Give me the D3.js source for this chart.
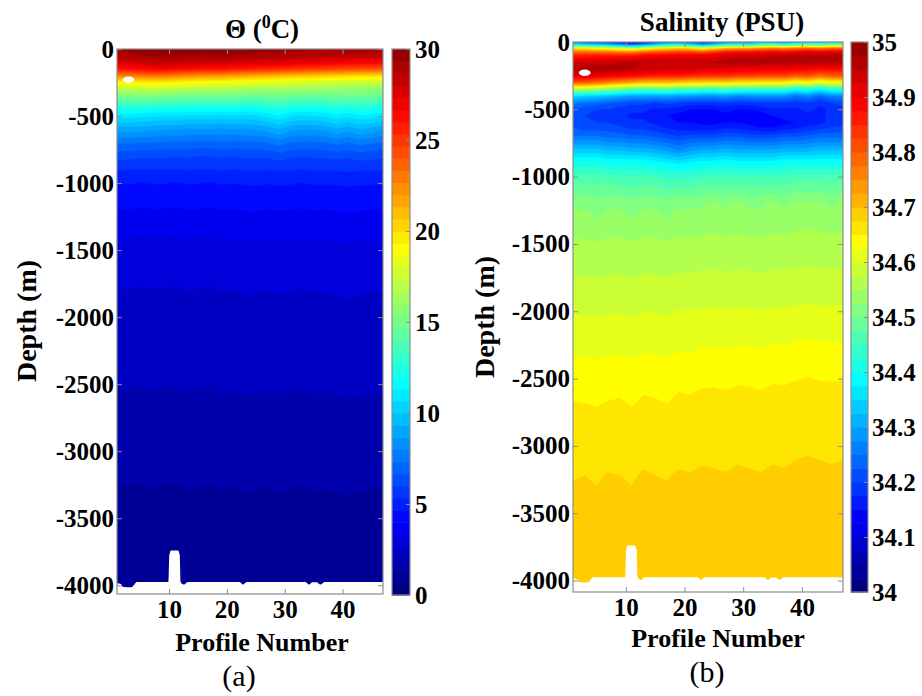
<!DOCTYPE html>
<html><head><meta charset="utf-8">
<script src="https://cdn.jsdelivr.net/npm/d3@7"></script>
<style>
body{margin:0;background:#fff;}
svg{display:block;}
text{font-family:"Liberation Serif","Times New Roman",serif;fill:#000;}
</style></head><body>
<svg id="chart" width="922" height="696"></svg>
<script>
// ---- section data: columns are profiles, rows are depth levels (m) ----
const profiles = [1,3,5,7,9,11,13,15,17,19,21,23,25,27,29,31,33,35,37,39,41,43,45,47];

const tempDepths = [0,-50,-100,-150,-200,-250,-300,-350,-400,-450,-500,-600,-700,-800,-900,-1000,-1200,-1400,-1800,-2200,-2600,-3000,-3250,-3500,-4000];
const tempRows = [
 [29.3,29.5,29.7,29.8,29.9,29.9,29.9,29.8,29.8,29.9,29.8,29.7,29.6,29.6,29.5,29.5,29.4,29.4,29.3,29.3,29.2,29.2,29.1,29.0],
 [28.9,29.1,29.3,29.4,29.5,29.5,29.4,29.3,29.3,29.4,29.3,29.2,29.1,29.1,29.0,28.9,28.8,28.8,28.7,28.6,28.5,28.5,28.4,28.3],
 [27.6,27.8,28.0,28.2,28.3,28.2,28.1,28.0,27.9,28.0,27.8,27.7,27.6,27.5,27.4,27.3,27.1,27.1,27.0,26.9,26.7,26.6,26.6,26.5],
 [25.9,26.1,26.3,26.5,26.6,26.4,26.2,26.0,25.9,26.0,25.7,25.6,25.4,25.3,25.1,25.0,24.8,24.7,24.5,24.4,24.2,24.1,24.0,23.9],
 [22.4,22.7,22.9,23.1,23.0,22.7,22.4,22.2,22.0,22.1,21.8,21.6,21.4,21.2,21.0,20.9,20.7,20.6,20.4,20.3,20.1,20.0,19.9,19.8],
 [19.0,19.2,19.4,19.5,19.4,19.2,19.0,18.8,18.7,18.7,18.5,18.3,18.2,18.1,18.0,17.9,17.8,17.7,17.6,17.5,17.4,17.4,17.3,17.2],
 [16.9,17.1,17.2,17.2,17.1,16.9,16.8,16.7,16.6,16.6,16.5,16.4,16.3,16.3,16.3,16.2,16.1,16.1,16.0,16.0,15.9,15.9,15.8,15.7],
 [15.1,15.3,15.3,15.3,15.2,15.1,15.0,14.9,14.9,14.9,14.8,14.8,14.7,14.8,15.0,14.7,14.6,14.6,14.6,14.8,14.7,14.7,14.8,14.5],
 [13.6,13.7,13.7,13.6,13.5,13.4,13.4,13.3,13.3,13.3,13.3,13.2,13.2,13.4,13.6,13.3,13.2,13.2,13.3,13.5,13.4,13.5,13.5,13.2],
 [12.1,12.2,12.1,12.0,11.9,11.9,11.8,11.8,11.8,11.7,11.8,11.7,11.7,12.0,12.3,11.9,11.7,11.8,11.9,12.2,12.0,12.3,12.2,11.8],
 [10.8,10.9,10.8,10.7,10.6,10.6,10.5,10.5,10.5,10.4,10.5,10.4,10.5,10.8,11.2,10.7,10.5,10.6,10.7,11.1,10.8,11.2,11.0,10.6],
 [8.9,9.0,8.9,8.8,8.7,8.7,8.6,8.6,8.6,8.5,8.6,8.6,8.7,8.9,9.3,8.8,8.7,8.7,8.8,9.2,8.9,9.3,9.1,8.7],
 [7.4,7.4,7.3,7.3,7.2,7.2,7.2,7.1,7.1,7.2,7.1,7.2,7.2,7.3,7.6,7.3,7.2,7.2,7.3,7.5,7.3,7.6,7.4,7.2],
 [6.2,6.2,6.1,6.1,6.1,6.0,6.1,6.0,6.0,6.1,6.0,6.1,6.1,6.1,6.3,6.1,6.0,6.1,6.1,6.2,6.1,6.3,6.2,6.1],
 [5.35,5.36,5.3,5.34,5.35,5.29,5.36,5.34,5.28,5.37,5.33,5.38,5.4,5.34,5.42,5.37,5.32,5.38,5.36,5.4,5.43,5.41,5.37,5.38],
 [4.68,4.7,4.64,4.69,4.7,4.63,4.7,4.69,4.62,4.71,4.68,4.72,4.74,4.69,4.74,4.71,4.66,4.72,4.7,4.73,4.76,4.73,4.7,4.72],
 [3.98,3.99,3.93,3.98,3.97,3.93,4.0,3.98,3.92,4.01,3.97,4.02,4.04,3.98,4.03,4.0,3.96,4.02,4.0,4.04,4.06,4.03,4.01,4.02],
 [3.36,3.35,3.31,3.35,3.34,3.31,3.37,3.35,3.3,3.38,3.35,3.38,3.4,3.36,3.39,3.37,3.34,3.38,3.37,3.4,3.42,3.39,3.37,3.38],
 [2.66,2.65,2.62,2.66,2.64,2.61,2.67,2.65,2.6,2.68,2.65,2.69,2.71,2.66,2.7,2.68,2.64,2.69,2.68,2.71,2.73,2.7,2.68,2.69],
 [2.26,2.25,2.23,2.26,2.25,2.22,2.27,2.25,2.22,2.28,2.26,2.28,2.3,2.27,2.29,2.28,2.25,2.29,2.28,2.3,2.31,2.29,2.28,2.29],
 [1.95,1.95,1.93,1.96,1.95,1.93,1.97,1.95,1.93,1.97,1.96,1.98,1.99,1.97,1.98,1.97,1.95,1.98,1.97,1.99,2.0,1.99,1.98,1.98],
 [1.6,1.6,1.59,1.61,1.6,1.59,1.62,1.6,1.59,1.62,1.61,1.63,1.64,1.62,1.63,1.62,1.6,1.63,1.62,1.64,1.65,1.64,1.63,1.63],
 [1.33,1.34,1.32,1.35,1.33,1.31,1.36,1.34,1.32,1.36,1.33,1.37,1.36,1.34,1.37,1.35,1.33,1.36,1.35,1.37,1.38,1.36,1.35,1.36],
 [1.22,1.22,1.22,1.22,1.22,1.22,1.22,1.22,1.22,1.22,1.22,1.22,1.22,1.22,1.22,1.22,1.22,1.22,1.22,1.22,1.22,1.22,1.22,1.22],
 [1.12,1.12,1.12,1.12,1.12,1.12,1.12,1.12,1.12,1.12,1.12,1.12,1.12,1.12,1.12,1.12,1.12,1.12,1.12,1.12,1.12,1.12,1.12,1.12]
];

const salDepths = [0,-25,-50,-75,-100,-150,-200,-250,-300,-350,-400,-450,-500,-550,-600,-650,-700,-800,-900,-1000,-1200,-1500,-2000,-2300,-2600,-3220,-3600,-4000];
const salRows = [
 [34.22,34.20,34.18,34.16,34.12,34.08,34.10,34.18,34.22,34.24,34.20,34.14,34.18,34.24,34.26,34.24,34.28,34.30,34.27,34.30,34.32,34.30,34.34,34.32],
 [34.41,34.40,34.38,34.36,34.32,34.28,34.32,34.38,34.42,34.44,34.40,34.34,34.38,34.44,34.46,34.44,34.48,34.50,34.46,34.50,34.52,34.50,34.54,34.52],
 [34.66,34.66,34.64,34.63,34.60,34.58,34.62,34.66,34.68,34.70,34.68,34.64,34.68,34.72,34.74,34.74,34.76,34.78,34.76,34.78,34.80,34.78,34.80,34.80],
 [34.78,34.78,34.77,34.77,34.76,34.75,34.78,34.80,34.81,34.82,34.82,34.80,34.83,34.86,34.87,34.87,34.88,34.89,34.88,34.90,34.91,34.90,34.91,34.91],
 [34.85,34.86,34.86,34.86,34.86,34.86,34.88,34.89,34.89,34.90,34.90,34.90,34.91,34.93,34.94,34.94,34.94,34.95,34.95,34.96,34.96,34.96,34.97,34.96],
 [34.92,34.93,34.94,34.94,34.95,34.95,34.95,34.95,34.95,34.95,34.95,34.95,34.95,34.96,34.96,34.96,34.96,34.96,34.96,34.96,34.96,34.96,34.96,34.95],
 [34.96,34.97,34.97,34.97,34.96,34.95,34.94,34.94,34.93,34.93,34.93,34.92,34.92,34.92,34.91,34.91,34.90,34.90,34.90,34.89,34.89,34.88,34.88,34.88],
 [34.92,34.92,34.91,34.90,34.89,34.88,34.87,34.86,34.86,34.86,34.85,34.84,34.84,34.84,34.83,34.83,34.82,34.82,34.82,34.80,34.81,34.78,34.80,34.80],
 [34.80,34.80,34.78,34.76,34.74,34.72,34.70,34.70,34.70,34.69,34.68,34.68,34.67,34.68,34.66,34.66,34.65,34.65,34.65,34.62,34.64,34.60,34.63,34.63],
 [34.56,34.56,34.54,34.52,34.50,34.48,34.47,34.47,34.48,34.46,34.46,34.45,34.45,34.46,34.44,34.44,34.44,34.44,34.44,34.40,34.42,34.38,34.42,34.42],
 [34.36,34.35,34.34,34.33,34.31,34.30,34.30,34.30,34.30,34.29,34.29,34.28,34.28,34.29,34.27,34.28,34.28,34.28,34.28,34.25,34.27,34.24,34.27,34.27],
 [34.26,34.25,34.24,34.23,34.22,34.21,34.21,34.20,34.21,34.20,34.19,34.19,34.19,34.20,34.19,34.19,34.20,34.20,34.20,34.19,34.20,34.18,34.20,34.21],
 [34.22,34.21,34.20,34.20,34.19,34.18,34.18,34.17,34.17,34.16,34.15,34.15,34.15,34.16,34.15,34.15,34.16,34.17,34.17,34.17,34.18,34.17,34.18,34.19],
 [34.21,34.20,34.19,34.19,34.18,34.17,34.17,34.16,34.15,34.14,34.13,34.13,34.13,34.14,34.14,34.13,34.13,34.15,34.16,34.16,34.17,34.17,34.18,34.19],
 [34.21,34.20,34.20,34.20,34.19,34.18,34.18,34.17,34.16,34.15,34.15,34.14,34.14,34.15,34.15,34.14,34.13,34.13,34.14,34.15,34.16,34.17,34.18,34.19],
 [34.23,34.22,34.22,34.22,34.21,34.20,34.20,34.19,34.18,34.17,34.17,34.17,34.17,34.18,34.18,34.17,34.16,34.16,34.17,34.18,34.19,34.20,34.21,34.21],
 [34.25,34.25,34.25,34.24,34.24,34.23,34.23,34.22,34.21,34.20,34.21,34.21,34.21,34.22,34.22,34.21,34.21,34.21,34.22,34.22,34.23,34.24,34.24,34.24],
 [34.33,34.33,34.33,34.32,34.32,34.31,34.31,34.30,34.29,34.27,34.29,34.30,34.30,34.31,34.30,34.30,34.30,34.30,34.31,34.31,34.31,34.32,34.32,34.32],
 [34.41,34.41,34.41,34.40,34.40,34.40,34.40,34.39,34.38,34.37,34.38,34.39,34.39,34.40,34.39,34.39,34.39,34.39,34.40,34.40,34.40,34.40,34.40,34.40],
 [34.46,34.46,34.46,34.46,34.45,34.45,34.45,34.45,34.44,34.44,34.44,34.45,34.45,34.45,34.45,34.45,34.45,34.45,34.45,34.46,34.46,34.46,34.46,34.46],
 [34.52,34.52,34.51,34.52,34.52,34.51,34.52,34.52,34.51,34.52,34.52,34.52,34.53,34.52,34.53,34.52,34.52,34.53,34.52,34.53,34.53,34.53,34.52,34.53],
 [34.555,34.554,34.552,34.555,34.555,34.552,34.556,34.555,34.553,34.556,34.555,34.557,34.558,34.556,34.558,34.557,34.555,34.558,34.557,34.559,34.56,34.559,34.558,34.559],
 [34.598,34.597,34.596,34.598,34.599,34.596,34.600,34.599,34.597,34.601,34.600,34.602,34.603,34.601,34.603,34.602,34.600,34.603,34.602,34.604,34.605,34.604,34.603,34.604],
 [34.622,34.621,34.620,34.622,34.623,34.620,34.624,34.623,34.621,34.625,34.624,34.627,34.628,34.626,34.629,34.628,34.626,34.630,34.629,34.632,34.634,34.632,34.631,34.632],
 [34.647,34.646,34.645,34.647,34.648,34.645,34.649,34.648,34.646,34.650,34.649,34.652,34.653,34.651,34.654,34.653,34.651,34.655,34.654,34.657,34.659,34.657,34.656,34.657],
 [34.674,34.675,34.673,34.676,34.675,34.673,34.677,34.675,34.674,34.677,34.676,34.678,34.677,34.676,34.678,34.677,34.676,34.678,34.677,34.679,34.680,34.679,34.678,34.679],
 [34.683,34.683,34.683,34.683,34.683,34.683,34.683,34.683,34.683,34.683,34.683,34.683,34.683,34.683,34.683,34.683,34.683,34.683,34.683,34.683,34.683,34.683,34.683,34.683],
 [34.688,34.688,34.688,34.688,34.688,34.688,34.688,34.688,34.688,34.688,34.688,34.688,34.688,34.688,34.688,34.688,34.688,34.688,34.688,34.688,34.688,34.688,34.688,34.688]
];

// sea floor under the section (profile, depth in m)
const floorProfile = [1, 1.7, 2.0, 3.5, 3.9, 4.4, 9.9, 10.05, 10.35, 11.55, 11.85, 12.0, 12.6, 13.2, 22.2, 22.8, 23.4, 33.6, 34.2, 34.8, 35.5, 36.2, 36.9, 47];
const floorDepth   = [-3985,-3990,-4010,-4015,-4000,-3975,-3975,-3775,-3740,-3740,-3775,-3975,-3995,-3975,-3975,-3995,-3975,-3975,-3995,-3978,-3978,-3995,-3975,-3975];
// missing samples near the top of profile 3
const gapProfile = [2.0, 4.0];
const gapDepth   = [-205, -252];

const profileTicks = [10, 20, 30, 40];
const depthTicks = [0, -500, -1000, -1500, -2000, -2500, -3000, -3500, -4000];
const tempTicks = [0, 5, 10, 15, 20, 25, 30];
const salTicks = [34, 34.1, 34.2, 34.3, 34.4, 34.5, 34.6, 34.7, 34.8, 34.9, 35];

// MATLAB-style jet colormap
function jet(t) {
  const c = v => Math.round(255 * Math.max(0, Math.min(1, v)));
  return `rgb(${c(1.5 - Math.abs(4 * t - 3))},${c(1.5 - Math.abs(4 * t - 2))},${c(1.5 - Math.abs(4 * t - 1))})`;
}

const svg = d3.select("#chart");
const AXIS = "#8c8c8c";

function panel(cfg) {
  const g = svg.append("g");
  const x = d3.scaleLinear().domain([1, 47]).range([cfg.x0, cfg.x1]);
  const y = d3.scaleLinear().domain([cfg.yMin, 0]).range([cfg.y1, cfg.y0]);
  const [vmin, vmax] = cfg.range;
  const color = d3.scaleSequential(jet).domain([vmin, vmax]);
  const step = (vmax - vmin) / cfg.nBands;
  const levels = d3.range(cfg.nBands).map(i => vmin + step * i);

  const clipId = "clip" + cfg.id;
  svg.append("clipPath").attr("id", clipId).append("rect")
    .attr("x", cfg.x0).attr("y", cfg.y0).attr("width", cfg.x1 - cfg.x0).attr("height", cfg.y1 - cfg.y0);

  // filled contours on the profile x depth grid; each band takes the colour of its lower level
  const nx = profiles.length, ny = cfg.depths.length;
  const values = cfg.rows.flat();
  const colP = d3.scaleLinear().domain(d3.range(nx)).range(profiles);
  const rowD = d3.scaleLinear().domain(d3.range(ny)).range(cfg.depths);
  const proj = d3.geoTransform({
    point(px, py) { this.stream.point(x(colP(px - 0.5)), y(rowD(py - 0.5))); }
  });
  const path = d3.geoPath(proj);
  const contours = d3.contours().size([nx, ny]).thresholds(levels)(values);
  const field = g.append("g").attr("clip-path", `url(#${clipId})`);
  field.selectAll("path").data(contours).join("path")
    .attr("d", path)
    .attr("fill", d => color(d.value))
    .attr("stroke", d => color(d.value))
    .attr("stroke-width", 0.4);

  // no-data areas: below the sea floor and the gap near the surface
  const floor = floorProfile.map((p, i) => [p, floorDepth[i]]);
  field.append("path")
    .attr("d", d3.area().x(d => x(d[0])).y0(d => y(d[1])).y1(cfg.y1 + 2).curve(d3.curveMonotoneX)(floor))
    .attr("fill", "#fff");
  field.append("ellipse")
    .attr("cx", (x(gapProfile[0]) + x(gapProfile[1])) / 2)
    .attr("cy", (y(gapDepth[0]) + y(gapDepth[1])) / 2)
    .attr("rx", (x(gapProfile[1]) - x(gapProfile[0])) / 2)
    .attr("ry", (y(gapDepth[1]) - y(gapDepth[0])) / 2)
    .attr("fill", "#fff");

  // axes: ticks point inward on all four sides
  const ax = (sel) => { sel.select(".domain").remove(); sel.selectAll("line").attr("stroke", AXIS); sel.selectAll("text").style("font-size", "25px").style("font-weight", "bold"); };
  g.append("g").attr("transform", `translate(${cfg.x0},0)`)
    .call(d3.axisLeft(y).tickValues(depthTicks).tickSize(-5).tickPadding(3).tickFormat(d => String(d))).call(ax);
  g.append("g").attr("transform", `translate(${cfg.x1},0)`)
    .call(d3.axisRight(y).tickValues(depthTicks).tickSize(-5).tickFormat("")).call(ax);
  g.append("g").attr("transform", `translate(0,${cfg.y1})`)
    .call(d3.axisBottom(x).tickValues(profileTicks).tickSize(-5).tickPadding(6)).call(ax);
  g.append("g").attr("transform", `translate(0,${cfg.y0})`)
    .call(d3.axisTop(x).tickValues(profileTicks).tickSize(-5).tickFormat("")).call(ax);
  g.append("rect").attr("x", cfg.x0).attr("y", cfg.y0).attr("width", cfg.x1 - cfg.x0).attr("height", cfg.y1 - cfg.y0)
    .attr("fill", "none").attr("stroke", AXIS).attr("stroke-width", 1.2);

  // colour bar
  const cb = cfg.cb;
  const cy = d3.scaleLinear().domain([vmin, vmax]).range([cb.y1, cb.y0]);
  g.append("g").selectAll("rect").data(levels).join("rect")
    .attr("x", cb.x0).attr("width", cb.x1 - cb.x0)
    .attr("y", d => cy(d + step)).attr("height", d => cy(d) - cy(d + step) + 0.6)
    .attr("fill", d => color(d));
  g.append("g").attr("transform", `translate(${cb.x1},0)`)
    .call(d3.axisRight(cy).tickValues(cfg.cbTicks).tickSize(-4).tickPadding(cb.pad).tickFormat(d => String(+d.toFixed(1)))).call(ax);
  g.append("rect").attr("x", cb.x0).attr("y", cb.y0).attr("width", cb.x1 - cb.x0).attr("height", cb.y1 - cb.y0)
    .attr("fill", "none").attr("stroke", AXIS).attr("stroke-width", 1.2);

  // labels
  const t = g.append("text").attr("x", cfg.title[0]).attr("y", cfg.title[1]).attr("text-anchor", "middle")
    .style("font-size", "27px").style("font-weight", "bold");
  cfg.titleParts.forEach(p => {
    const s = t.append("tspan").text(p.text);
    if (p.sup) s.attr("dy", -10).style("font-size", "18px");
    if (p.after) s.attr("dy", 10);
  });
  g.append("text").attr("transform", `translate(${cfg.ylab[0]},${cfg.ylab[1]}) rotate(-90)`)
    .attr("text-anchor", "middle").style("font-size", "28px").style("font-weight", "bold").text("Depth (m)");
  g.append("text").attr("x", cfg.xlab[0]).attr("y", cfg.xlab[1]).attr("text-anchor", "middle")
    .style("font-size", "26px").style("font-weight", "bold").text("Profile Number");
  g.append("text").attr("x", cfg.tag[0]).attr("y", cfg.tag[1]).attr("text-anchor", "middle")
    .style("font-size", "30px").text(cfg.tagText);
}

panel({
  id: "a", x0: 117, x1: 383, y0: 49, y1: 594, yMin: -4065,
  depths: tempDepths, rows: tempRows, range: [0, 30], nBands: 45,
  cb: {x0: 392, x1: 410, y0: 49, y1: 595, pad: 5}, cbTicks: tempTicks,
  title: [262, 38], titleParts: [{text: "Θ ("}, {text: "0", sup: true}, {text: "C)", after: true}],
  ylab: [36, 321], xlab: [262, 651], tag: [239, 686], tagText: "(a)"
});
panel({
  id: "b", x0: 573, x1: 843, y0: 42, y1: 592, yMin: -4085,
  depths: salDepths, rows: salRows, range: [34, 35], nBands: 40,
  cb: {x0: 851, x1: 868, y0: 42, y1: 592, pad: 4}, cbTicks: salTicks,
  title: [722, 31], titleParts: [{text: "Salinity (PSU)"}],
  ylab: [494, 317], xlab: [718, 647], tag: [707, 682], tagText: "(b)"
});
</script>
</body></html>
